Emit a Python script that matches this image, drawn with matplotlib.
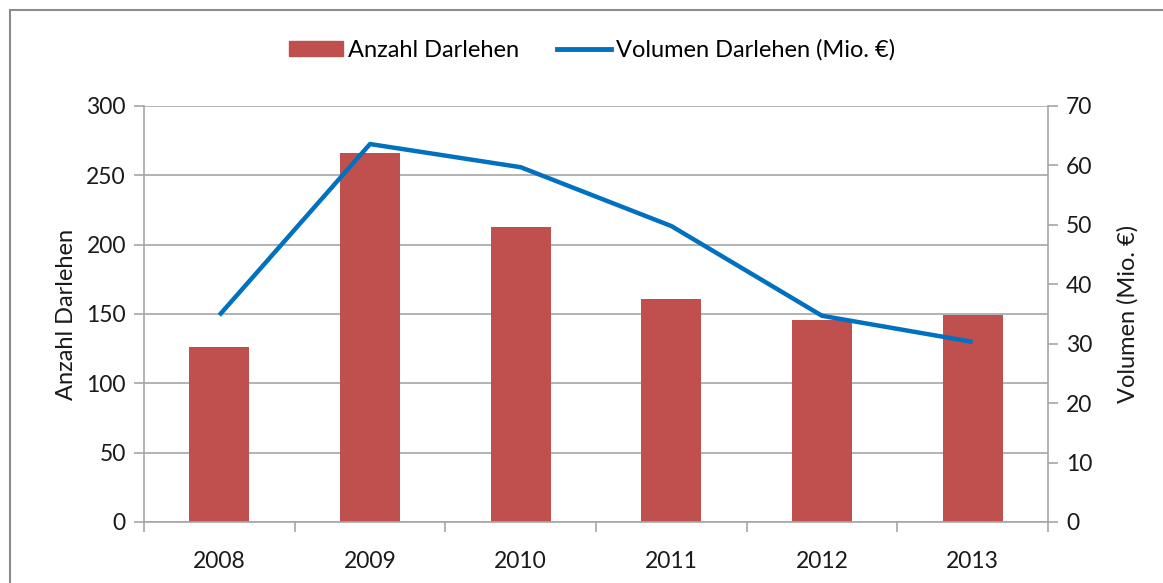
import matplotlib
matplotlib.use("Agg")
import matplotlib.pyplot as plt
from matplotlib.patches import Rectangle
from matplotlib.lines import Line2D
import numpy as np

years = ["2008", "2009", "2010", "2011", "2012", "2013"]
anzahl = [126, 266, 213, 161, 146, 149]
volumen = [34.8, 63.6, 59.7, 49.8, 34.7, 30.3]

plt.rcParams['font.family'] = ['Lato', 'DejaVu Sans']

fig = plt.figure(figsize=(11.63, 5.83), dpi=100)
# outer frame
fig.patches.append(Rectangle((10/1163, -0.01), 1.2, (583-10)/583 + 0.01, transform=fig.transFigure,
                             fill=False, edgecolor='#8c8c8c', linewidth=1.5))

ax = fig.add_axes([144/1163, (583-522)/583, (1048-144)/1163, (522-106)/583])
x = np.arange(len(years))
bar_color = '#C0504D'
line_color = '#0070C0'
ax.bar(x, anzahl, width=0.4, color=bar_color, zorder=2)
ax.set_ylim(0, 300)
ax.set_xlim(-0.5, len(years) - 0.5)
ax.set_yticks(np.arange(0, 301, 50))
ax.grid(axis='y', color='#a6a6a6', linewidth=1.2, zorder=0)
ax.set_axisbelow(True)
ax.set_xticks(x)
ax.set_xticklabels(years)
ax.set_xticks(np.arange(-0.5, len(years)), minor=True)
ax.tick_params(axis='x', which='major', length=0, pad=21, labelsize=16.5, colors='#1a1a1a')
ax.tick_params(axis='x', which='minor', length=7, width=1.2, color='#a6a6a6')
ax.tick_params(axis='y', length=7, width=1.2, color='#a6a6a6', labelsize=16.5, labelcolor='#1a1a1a', pad=6)
for s in ['top', 'right']:
    ax.spines[s].set_visible(False)
for s in ['left', 'bottom']:
    ax.spines[s].set_color('#a6a6a6')
    ax.spines[s].set_linewidth(1.2)
ax.set_ylabel("Anzahl Darlehen", fontsize=17, color='#1a1a1a', labelpad=7)

ax2 = ax.twinx()
ax2.plot(x, volumen, color=line_color, linewidth=3.2, zorder=3, solid_capstyle='butt')
ax2.set_ylim(0, 70)
ax2.set_yticks(np.arange(0, 71, 10))
ax2.tick_params(axis='y', length=7, width=1.2, color='#a6a6a6', labelsize=16.5, labelcolor='#1a1a1a', pad=6)
for s in ['top', 'left', 'bottom']:
    ax2.spines[s].set_visible(False)
ax2.spines['right'].set_color('#a6a6a6')
ax2.spines['right'].set_linewidth(1.2)
ax2.set_ylabel("Volumen (Mio. €)", fontsize=17, color='#1a1a1a', labelpad=18)

handles = [Rectangle((0, 0), 1, 1, color=bar_color),
           Line2D([0], [0], color=line_color, linewidth=3.5)]
fig.legend(handles, ["Anzahl Darlehen", "Volumen Darlehen (Mio. €)"],
           loc='center', bbox_to_anchor=(592/1163, 1 - 50/583), ncol=2, frameon=False,
           fontsize=17, handlelength=2.3, handleheight=0.6, handletextpad=0.2, columnspacing=1.6)

fig.savefig("out.png", dpi=100)
